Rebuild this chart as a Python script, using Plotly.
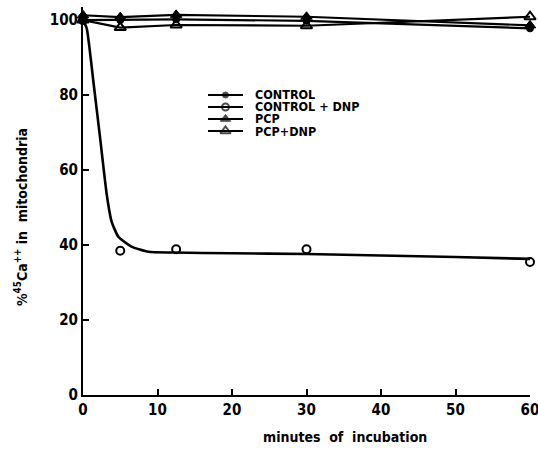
import plotly.graph_objects as go

# ---- data ----
minutes = [0, 5, 12.5, 30, 60]
control = [100.0, 100.0, 100.2, 99.8, 97.8]
control_dnp = [100.0, 38.5, 38.9, 38.9, 35.5]
pcp = [101.3, 100.8, 101.4, 100.9, 98.6]
pcp_dnp = [100.0, 98.0, 98.7, 98.5, 100.9]

# hand-drawn fitted curve through CONTROL + DNP
fit_minutes = [0, 0.5, 1.4, 2.3, 3.2, 3.85, 4.75, 6.5, 8.8, 12, 20, 30, 40, 50, 60]
fit_values = [100, 97.8, 83.5, 68.5, 53.3, 46.2, 42.2, 39.6, 38.2, 38.0, 37.8, 37.6, 37.2, 36.8, 36.3]

legend_names = ["CONTROL", "CONTROL + DNP", "PCP", "PCP+DNP"]
x_ticks = [0, 10, 20, 30, 40, 50, 60]
y_ticks = [0, 20, 40, 60, 80, 100]

FONT = "DejaVu Sans Condensed, DejaVu Sans, sans-serif"
BLACK = "#000000"

W, H = 538, 457
ML, MR, MT, MB = 83, 8, 7, 62
PW, PH = W - ML - MR, H - MT - MB


def px_x(p):
    return (p - ML) / PW


def px_y(p):
    return (H - MB - p) / PH


styles = [
    dict(symbol="circle", size=7, color=BLACK, line=dict(width=1, color=BLACK)),
    dict(symbol="circle-open", size=8, color=BLACK, line=dict(width=2, color=BLACK)),
    dict(symbol="triangle-up", size=10, color=BLACK, line=dict(width=1, color=BLACK)),
    dict(symbol="triangle-up-open", size=10, color=BLACK, line=dict(width=2, color=BLACK)),
]

fig = go.Figure()

for vals, st in [(control, styles[0]), (pcp_dnp, styles[3]), (pcp, styles[2])]:
    fig.add_trace(go.Scatter(x=minutes, y=vals, mode="lines+markers",
                             line=dict(color=BLACK, width=2.2), marker=st,
                             cliponaxis=False, showlegend=False))

fig.add_trace(go.Scatter(x=fit_minutes, y=fit_values, mode="lines",
                         line=dict(color=BLACK, width=2.6, shape="spline", smoothing=0.5),
                         showlegend=False))
fig.add_trace(go.Scatter(x=minutes, y=control_dnp, mode="markers", marker=styles[1],
                         cliponaxis=False, showlegend=False))

# hand-made legend on its own small axes
LEG_X0, LEG_X1 = 208, 243
LEG_ROW_TOP, LEG_ROW_STEP = 95, 12
n = len(legend_names)
for i, (name, st) in enumerate(zip(legend_names, styles)):
    row = n - 1 - i
    fig.add_trace(go.Scatter(x=[0, 0.5, 1], y=[row] * 3, mode="lines+markers",
                             xaxis="x2", yaxis="y2",
                             line=dict(color=BLACK, width=2.2),
                             marker=dict(symbol=st["symbol"], size=[0, st["size"] - 1, 0],
                                         color=BLACK, line=st["line"]),
                             cliponaxis=False, showlegend=False))
    fig.add_annotation(x=px_x(253), y=px_y(LEG_ROW_TOP + i * LEG_ROW_STEP),
                       xref="paper", yref="paper", text="<b>%s</b>" % name,
                       showarrow=False, xanchor="left", yanchor="middle",
                       font=dict(family=FONT, size=12.5, color=BLACK))

center = LEG_ROW_TOP + 1.5 * LEG_ROW_STEP
half = 2 * LEG_ROW_STEP
fig.update_layout(
    width=W, height=H,
    margin=dict(l=ML, r=MR, t=MT, b=MB),
    paper_bgcolor="white", plot_bgcolor="white",
    font=dict(family=FONT, color=BLACK),
    xaxis=dict(range=[0, 60], tickvals=x_ticks, ticktext=["<b>%d</b>" % v for v in x_ticks],
               ticks="inside", ticklen=6, tickwidth=1.5, tickcolor=BLACK,
               showline=True, linecolor=BLACK, linewidth=2, showgrid=False, zeroline=False,
               ticklabeloverflow="allow", automargin=False,
               tickfont=dict(family=FONT, size=15, color=BLACK)),
    yaxis=dict(range=[0, 103.5], tickvals=y_ticks, ticktext=["<b>%d</b>" % v for v in y_ticks],
               ticks="inside", ticklen=6, tickwidth=1.5, tickcolor=BLACK,
               showline=True, linecolor=BLACK, linewidth=2, showgrid=False, zeroline=False,
               ticklabeloverflow="allow", automargin=False,
               tickfont=dict(family=FONT, size=15, color=BLACK)),
    xaxis2=dict(domain=[px_x(LEG_X0), px_x(LEG_X1)], range=[0, 1], visible=False,
                fixedrange=True, automargin=False),
    yaxis2=dict(domain=[px_y(center + half), px_y(center - half)], range=[-0.5, 3.5],
                visible=False, anchor="x2", fixedrange=True, automargin=False),
)

fig.add_annotation(x=px_x(345), y=px_y(437), xref="paper", yref="paper",
                   text="<b>minutes  of  incubation</b>", showarrow=False,
                   xanchor="center", yanchor="middle",
                   font=dict(family=FONT, size=14, color=BLACK))

fig.add_annotation(x=px_x(21), y=px_y(217), xref="paper", yref="paper",
                   text="<b>%<sup>45</sup>Ca<sup>++</sup> in  mitochondria</b>",
                   showarrow=False, textangle=-90, xanchor="center", yanchor="middle",
                   font=dict(family=FONT, size=14, color=BLACK))

fig.write_html("out.html")
